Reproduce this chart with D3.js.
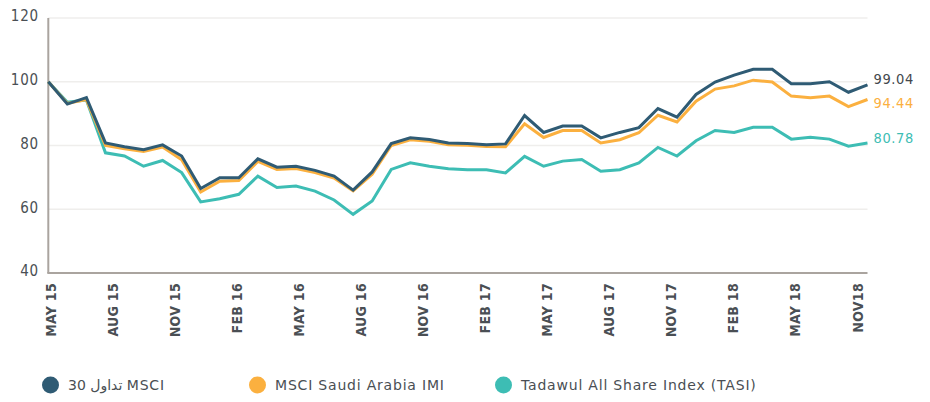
<!DOCTYPE html>
<html>
<head>
<meta charset="utf-8">
<script src="https://cdn.jsdelivr.net/npm/d3@7"></script>
<style>
  body { margin: 0; background: #fff; }
  svg text { font-family: "DejaVu Sans Condensed", "DejaVu Sans", sans-serif; }
</style>
</head>
<body>
<div id="chart"></div>
<script>
// monthly points, May 2015 .. Dec 2018
const months = d3.utcMonth.range(new Date(Date.UTC(2015, 4, 1)), new Date(Date.UTC(2019, 0, 1)))
  .map(d3.utcFormat('%Y-%m'));

const msci30 = [100, 93.0, 95.0, 80.8, 79.6, 78.7, 80.2, 76.7, 66.5, 69.9, 69.9, 75.8, 73.2, 73.5, 72.2,
  70.4, 66.0, 71.7, 80.6, 82.4, 81.9, 80.8, 80.6, 80.2, 80.5, 89.4, 84.1, 86.1, 86.1, 82.4, 84.1,
  85.6, 91.6, 88.9, 96.0, 99.9, 102.1, 103.9, 103.9, 99.4, 99.4, 100.0, 96.7, 99.04];

const msciImi = [100, 93.2, 94.4, 80.0, 79.0, 78.1, 79.5, 75.5, 65.4, 68.8, 69.0, 75.0, 72.5, 72.8, 71.5,
  69.8, 65.8, 71.0, 80.0, 81.8, 81.3, 80.2, 80.1, 79.7, 79.6, 86.8, 82.5, 84.7, 84.7, 80.8, 81.8,
  84.0, 89.5, 87.4, 93.9, 97.7, 98.7, 100.5, 99.9, 95.5, 95.0, 95.5, 92.2, 94.44];

const tasi = [100, 93.6, 94.3, 77.7, 76.7, 73.5, 75.3, 71.5, 62.3, 63.3, 64.7, 70.4, 66.8, 67.3, 65.7,
  62.9, 58.4, 62.6, 72.5, 74.6, 73.5, 72.7, 72.4, 72.4, 71.4, 76.6, 73.5, 75.1, 75.6, 71.9, 72.4,
  74.5, 79.4, 76.7, 81.5, 84.7, 84.1, 85.7, 85.7, 82.0, 82.6, 82.0, 79.8, 80.78];

const tickLabels = ['MAY 15', 'AUG 15', 'NOV 15', 'FEB 16', 'MAY 16', 'AUG 16', 'NOV 16',
  'FEB 17', 'MAY 17', 'AUG 17', 'NOV 17', 'FEB 18', 'MAY 18', 'NOV18'];

const yTicks = [40, 60, 80, 100, 120];

const seriesNames = ['30 تداول MSCI', 'MSCI Saudi Arabia IMI', 'Tadawul All Share Index (TASI)'];

// styling per series (drawing order: tasi, imi, msci on top)
const series = [
  { name: seriesNames[2], values: tasi, color: '#3dbdb4', labelColor: '#3dbdb4', labelDy: -5 },
  { name: seriesNames[1], values: msciImi, color: '#fbb03f', labelColor: '#fbb03f', labelDy: 3 },
  { name: seriesNames[0], values: msci30, color: '#2f5b74', labelColor: '#43484d', labelDy: -6 }
];
const legendColors = ['#2f5b74', '#fbb03f', '#3dbdb4'];

const width = 930, height = 402;
const plot = { left: 48.3, right: 867.5, top: 18, bottom: 273 };

const svg = d3.select('#chart').append('svg')
  .attr('width', width)
  .attr('height', height);

const x = d3.scalePoint().domain(months).range([plot.left, plot.right]);
const y = d3.scaleLinear().domain([40, 120]).range([plot.bottom, plot.top]);
const xLabels = d3.scalePoint().domain(tickLabels).range([50, 857]);

// gridlines
svg.append('g')
  .selectAll('line')
  .data(yTicks.filter(d => d > 40))
  .join('line')
  .attr('x1', plot.left).attr('x2', plot.right)
  .attr('y1', d => y(d)).attr('y2', d => y(d))
  .attr('stroke', '#efeeec')
  .attr('stroke-width', 1.5);

// y labels
svg.append('g')
  .selectAll('text')
  .data(yTicks)
  .join('text')
  .attr('x', 39)
  .attr('y', d => y(d) - 2)
  .attr('dy', '0.35em')
  .attr('text-anchor', 'end')
  .attr('fill', '#4a4f54')
  .style('font-size', '15px')
  .style('letter-spacing', '0.8px')
  .text(d => d);

// axes lines
svg.append('line')
  .attr('x1', plot.left).attr('x2', plot.left)
  .attr('y1', plot.top).attr('y2', plot.bottom)
  .attr('stroke', '#aaa49f').attr('stroke-width', 2);
svg.append('line')
  .attr('x1', plot.left - 1).attr('x2', plot.right)
  .attr('y1', plot.bottom).attr('y2', plot.bottom)
  .attr('stroke', '#aaa49f').attr('stroke-width', 2);

// x labels
const xAxis = svg.append('g')
  .attr('transform', `translate(0, ${plot.bottom})`)
  .call(d3.axisBottom(xLabels).tickSize(0).tickPadding(0));
xAxis.select('.domain').remove();
xAxis.selectAll('text')
  .attr('transform', 'rotate(-90)')
  .attr('x', -10)
  .attr('y', 0)
  .attr('dy', '0.36em')
  .attr('text-anchor', 'end')
  .attr('fill', '#4a4f54')
  .style('font-family', '"DejaVu Sans Condensed", "DejaVu Sans", sans-serif')
  .style('font-weight', 'bold')
  .style('letter-spacing', '0.3px')
  .style('font-size', '14px');

// lines
const line = d3.line()
  .x((d, i) => x(months[i]))
  .y(d => y(d));

svg.append('g')
  .selectAll('path')
  .data(series)
  .join('path')
  .attr('d', d => line(d.values))
  .attr('fill', 'none')
  .attr('stroke', d => d.color)
  .attr('stroke-width', 3)
  .attr('stroke-linejoin', 'miter');

// end labels
svg.append('g')
  .selectAll('text')
  .data(series)
  .join('text')
  .attr('x', x(months[months.length - 1]) + 6)
  .attr('y', d => y(d.values[d.values.length - 1]) + d.labelDy)
  .attr('dy', '0.35em')
  .attr('fill', d => d.labelColor)
  .style('font-size', '14.5px')
  .style('letter-spacing', '0.6px')
  .text(d => d3.format('.2f')(d.values[d.values.length - 1]));

// legend
const legendX = [42, 249, 495];
const legend = svg.append('g')
  .selectAll('g')
  .data(seriesNames)
  .join('g')
  .attr('transform', (d, i) => `translate(${legendX[i]}, 385)`);
legend.append('circle')
  .attr('cx', 8.5).attr('cy', 0).attr('r', 8.5)
  .attr('fill', (d, i) => legendColors[i]);
legend.append('text')
  .attr('x', 26)
  .attr('dy', '0.35em')
  .attr('fill', '#4a4f54')
  .style('font-family', '"DejaVu Sans", sans-serif')
  .style('font-size', '14px')
  .style('letter-spacing', '0.8px')
  .text(d => d);
</script>
</body>
</html>
